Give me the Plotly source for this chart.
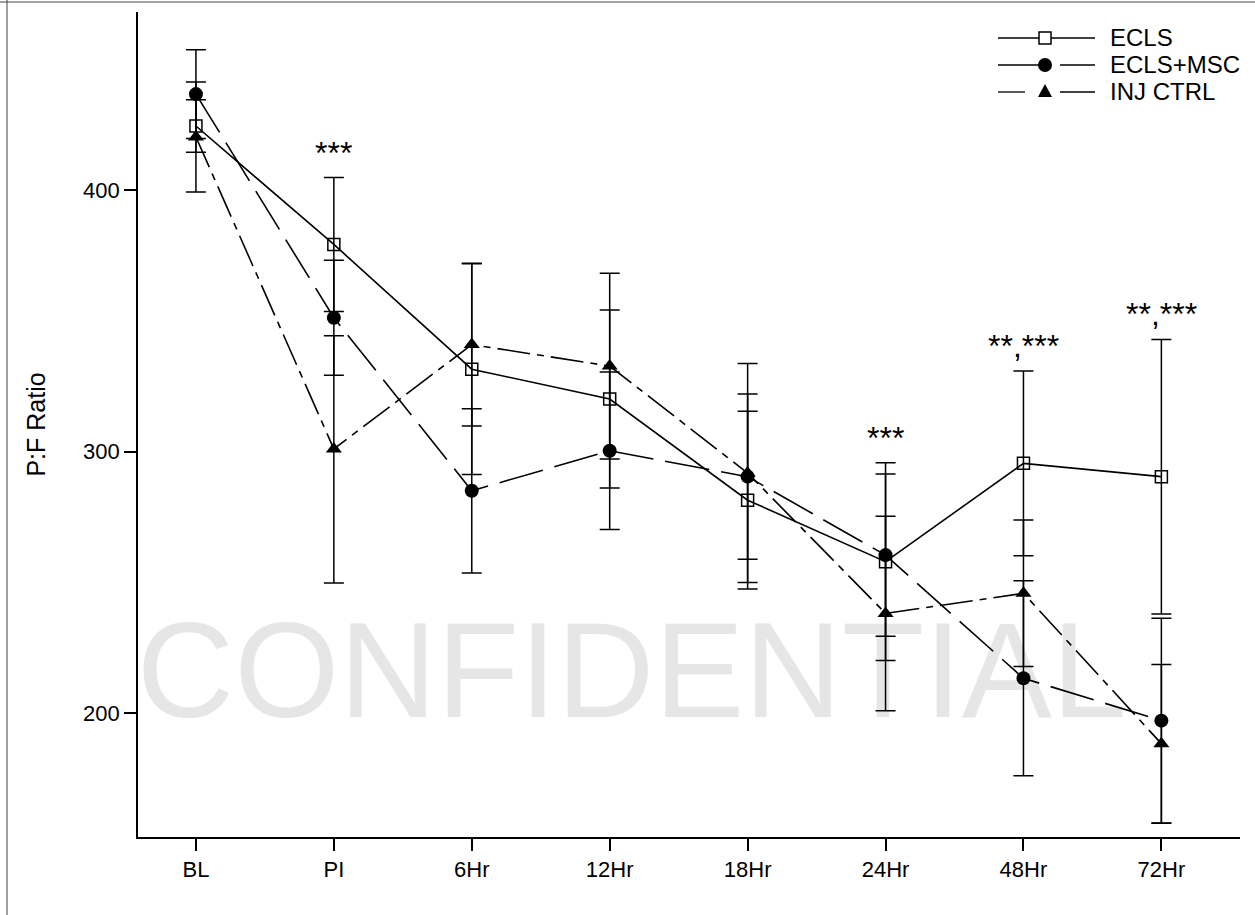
import plotly.graph_objects as go

# ---------------- data ----------------
timepoints = ["BL", "PI", "6Hr", "12Hr", "18Hr", "24Hr", "48Hr", "72Hr"]

ecls = [424.5, 379.2, 331.5, 320.1, 281.4, 257.9, 295.5, 290.4]
ecls_err = [10.0, 25.6, 40.3, 34.0, 34.0, 37.8, 35.3, 52.5]

msc = [436.7, 351.2, 285.0, 300.3, 290.4, 260.4, 213.3, 197.1]
msc_err = [17.0, 22.0, 31.4, 30.1, 31.6, 31.0, 37.3, 39.2]

inj = [420.3, 301.0, 340.9, 332.7, 291.8, 238.1, 245.8, 188.3]
inj_err_plus = [21.0, 43.3, 31.1, 35.5, 41.9, 37.2, 28.0, 30.3]
inj_err_minus = [21.0, 51.3, 31.1, 35.5, 41.9, 37.2, 28.0, 30.3]

sig_labels = ["", "***", "", "", "", "***", "**,***", "**,***"]

series_names = ["ECLS", "ECLS+MSC", "INJ CTRL"]

# ---------------- layout constants ----------------
W, H = 1255, 915
M_L, M_R, M_T, M_B = 138, 15, 12, 78
Y_RANGE = [152.6, 468.1]
X_RANGE = [-0.42, 7.57]
FONT = "Liberation Sans, Arial, sans-serif"
LW = 1.6
DASH_MSC = "45px,12px"
DASH_INJ = "33px,7px,7px,7px"

xs = list(range(len(timepoints)))

fig = go.Figure()

# watermark (drawn first so data sits over it)
fig.add_trace(go.Scatter(
    x=[3.16], y=[211.3], mode="text", text=["CONFIDENTIAL"],
    textposition="middle center",
    textfont=dict(family="Liberation Sans, Arial", size=135, color="#e6e6e6"),
    hoverinfo="skip", showlegend=False, cliponaxis=False,
))

fig.add_trace(go.Scatter(
    x=xs, y=ecls, name=series_names[0], mode="lines+markers",
    line=dict(color="black", width=LW, dash="solid"),
    marker=dict(symbol="square-open", size=12, color="black", line=dict(width=1.5, color="black")),
    error_y=dict(type="data", array=ecls_err, visible=True, width=10, thickness=1.5, color="black"),
    showlegend=False, cliponaxis=False,
))
fig.add_trace(go.Scatter(
    x=xs, y=msc, name=series_names[1], mode="lines+markers",
    line=dict(color="black", width=LW, dash=DASH_MSC),
    marker=dict(symbol="circle", size=14, color="black"),
    error_y=dict(type="data", array=msc_err, visible=True, width=10, thickness=1.5, color="black"),
    showlegend=False, cliponaxis=False,
))
fig.add_trace(go.Scatter(
    x=xs, y=inj, name=series_names[2], mode="lines+markers",
    line=dict(color="black", width=LW, dash=DASH_INJ),
    marker=dict(symbol="triangle-up", size=14, color="black"),
    error_y=dict(type="data", array=inj_err_plus, arrayminus=inj_err_minus, symmetric=False,
                 visible=True, width=10, thickness=1.5, color="black"),
    showlegend=False, cliponaxis=False,
))

# significance labels above the highest error bar
for i, lab in enumerate(sig_labels):
    if not lab:
        continue
    top = max(ecls[i] + ecls_err[i], msc[i] + msc_err[i], inj[i] + inj_err_plus[i])
    fig.add_annotation(x=xs[i], y=top, text=lab, showarrow=False, xanchor="center",
                       yanchor="bottom", yshift=5,
                       font=dict(family=FONT, size=32, color="black"))

# ---------------- manual legend (paper coords) ----------------
pw = W - M_L - M_R
ph = H - M_T - M_B
def px2paper_x(px):
    return (px - M_L) / pw
def px2paper_y(py):
    return (H - M_B - py) / ph

leg_rows = [38, 65, 92]
leg_segments = [
    [(998, 1095)],
    [(998, 1040), (1060, 1095)],
    [(998, 1025), (1060, 1095)],
]
leg_marker_x = 1045
leg_text_x = 1108
for r, (row_y, segs) in enumerate(zip(leg_rows, leg_segments)):
    yy = px2paper_y(row_y)
    for a, b in segs:
        fig.add_shape(type="line", xref="paper", yref="paper",
                      x0=px2paper_x(a), x1=px2paper_x(b), y0=yy, y1=yy,
                      line=dict(color="black", width=1.3))
    xm = px2paper_x(leg_marker_x)
    if r == 0:
        fig.add_shape(type="rect", xref="paper", yref="paper", xsizemode="pixel", ysizemode="pixel",
                      xanchor=xm, yanchor=yy, x0=-6, x1=6, y0=-6, y1=6,
                      line=dict(color="black", width=1.5), fillcolor="white")
    elif r == 1:
        fig.add_shape(type="circle", xref="paper", yref="paper", xsizemode="pixel", ysizemode="pixel",
                      xanchor=xm, yanchor=yy, x0=-7, x1=7, y0=-7, y1=7,
                      line=dict(color="black", width=0), fillcolor="black")
    else:
        fig.add_shape(type="path", xref="paper", yref="paper", xsizemode="pixel", ysizemode="pixel",
                      xanchor=xm, yanchor=yy, path="M -7 -5 L 7 -5 L 0 8 Z",
                      line=dict(color="black", width=0), fillcolor="black")
    fig.add_annotation(xref="paper", yref="paper", x=px2paper_x(leg_text_x), y=yy,
                       text=series_names[r], showarrow=False, xanchor="left", yanchor="middle",
                       font=dict(family=FONT, size=24, color="black"))

# outer frame lines (top and left)
fig.add_shape(type="line", xref="paper", yref="paper",
              x0=px2paper_x(0), x1=px2paper_x(W), y0=px2paper_y(2), y1=px2paper_y(2),
              line=dict(color="#444", width=1))
fig.add_shape(type="line", xref="paper", yref="paper",
              x0=px2paper_x(7), x1=px2paper_x(7), y0=px2paper_y(0), y1=px2paper_y(H),
              line=dict(color="#444", width=1))

fig.update_layout(
    width=W, height=H,
    margin=dict(l=M_L, r=M_R, t=M_T, b=M_B),
    paper_bgcolor="white", plot_bgcolor="white",
    font=dict(family=FONT, size=22, color="black"),
    showlegend=False,
)
fig.update_xaxes(
    range=X_RANGE, tickmode="array", tickvals=xs, ticktext=timepoints,
    showgrid=False, zeroline=False, showline=True, linecolor="black", linewidth=1.6,
    ticks="outside", ticklen=12, tickwidth=1.5, tickcolor="black",
    tickfont=dict(family=FONT, size=22, color="black"),
)
fig.update_yaxes(
    range=Y_RANGE, tickmode="array", tickvals=[200, 300, 400],
    showgrid=False, zeroline=False, showline=True, linecolor="black", linewidth=1.6,
    ticks="outside", ticklen=12, tickwidth=1.5, tickcolor="black",
    tickfont=dict(family=FONT, size=22, color="black"),
    title=dict(text="P:F Ratio", font=dict(family=FONT, size=25, color="black"), standoff=30),
)

fig.write_html("out.html", config={"displayModeBar": False},
               post_script="document.body.style.margin='0';")
